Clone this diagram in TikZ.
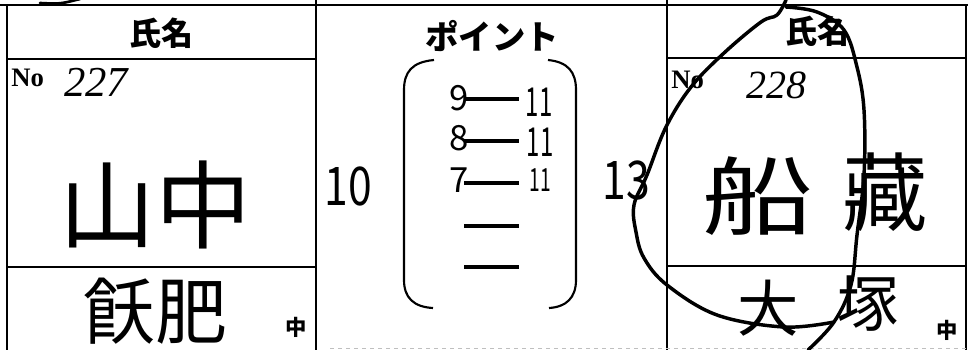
\documentclass[tikz,border=0pt]{standalone}
\usepackage{fontspec}
\setmainfont{Liberation Serif}
\newfontfamily\jp{Noto Sans CJK JP}
\tikzset{
  frame/.style={line width=2.2pt},
  printed/.style={font=\jp\bfseries\fontsize{#1}{#1}\selectfont, inner sep=0pt},
  numlabel/.style={font=\bfseries\fontsize{#1}{#1}\selectfont, inner sep=0pt, anchor=west},
  hand/.style={font=\jp\fontsize{#1}{#1}\selectfont, inner sep=0pt},
  handnum/.style={font=\itshape\fontsize{#1}{#1}\selectfont, inner sep=0pt},
}
\begin{document}
\begin{tikzpicture}[x=0.75pt,y=0.75pt,yscale=-1,xscale=1]
\useasboundingbox (0,0) rectangle (968,350);
\clip (0,0) rectangle (968,350);

%Straight Lines
\draw[frame] (0,5) -- (968,5);
\draw[frame] (7,5) -- (7,350);
\draw[frame] (316,0) -- (316,350);
\draw[frame] (667,0) -- (667,350);
\draw[frame] (966,5) -- (966,350);
%Straight Lines
\draw[frame] (7,59) -- (316,59);
\draw[frame] (7,267) -- (316,267);
\draw[frame] (667,58) -- (966,58);
\draw[frame] (667,266) -- (966,266);
\draw[gray!50, dashed] (330,348) -- (968,348);
\draw[line width=2pt, line cap=round] (40,3) .. controls (60,4) .. (80,-1);

%Shape: Brackets
\draw[line width=1.6pt] (434,60) .. controls (412,62) and (404,72) .. (404,90) -- (404,280) .. controls (404,298) and (414,307) .. (433,308);
\draw[line width=1.6pt] (548,60) .. controls (568,62) and (576,72) .. (576,90) -- (576,280) .. controls (576,298) and (566,307) .. (549,308);
\foreach \y in {99,141,183,226,267}
  \draw[line width=2.4pt] (464,\y) -- (519,\y);

%Printed texts
\node[printed=24] (headL) at (161,33) {氏名};
\node[printed=25] (headM) at (492,36) {ポイント};
\node[printed=24] (headR) at (817,31) {氏名};
\node[numlabel=20] (noL) at (11,78) {No};
\node[numlabel=20] (noR) at (671,80) {No};
\node[printed=16] (midL) at (296,327) {中};
\node[printed=16] (midR) at (947,330) {中};

%Handwriting
\node[handnum=32] (numL) at (96,82) {227};
\node[handnum=30] (numR) at (776,85) {228};
\node[hand=72] (nameL) at (156,205) {山中};
\node[hand=54] (homeL) at (155,311) {飫肥};
\node[hand=40, xscale=0.8] (totL) at (348,186) {10};
\node[hand=40, xscale=0.8] (totR) at (626,180) {13};
\node[hand=26] (p1) at (459,98) {9};
\node[hand=26] (p2) at (459,138) {8};
\node[hand=26] (p3) at (459,180) {7};
\node[hand=30, xscale=0.6] (t1) at (539,102) {11};
\node[hand=30, xscale=0.6] (t2) at (540,142) {11};
\node[hand=24, xscale=0.6] (t3) at (540,180) {11};
\node[hand=64, xscale=1.3] (nameR1) at (758,196) {船};
\node[hand=64] (nameR2) at (885,192) {藏};
\node[hand=46] (homeR1) at (768,308) {大};
\node[hand=46] (homeR2) at (868,304) {塚};

%Circle
\draw[line width=2.6pt, line cap=round] plot[smooth, tension=0.6] coordinates {(786,0) (777,15) (761,22) (724,53) (691,87) (666,127) (647,175) (634,205) (636,232) (644,258) (667,285) (717,315) (784,327) (834,322)};
\draw[line width=2.6pt, line cap=round] plot[smooth, tension=0.6] coordinates {(786,7) (817,12) (844,30) (857,67) (864,110) (864,175) (857,235) (851,285) (834,322) (808,350)};

\end{tikzpicture}
\end{document}
